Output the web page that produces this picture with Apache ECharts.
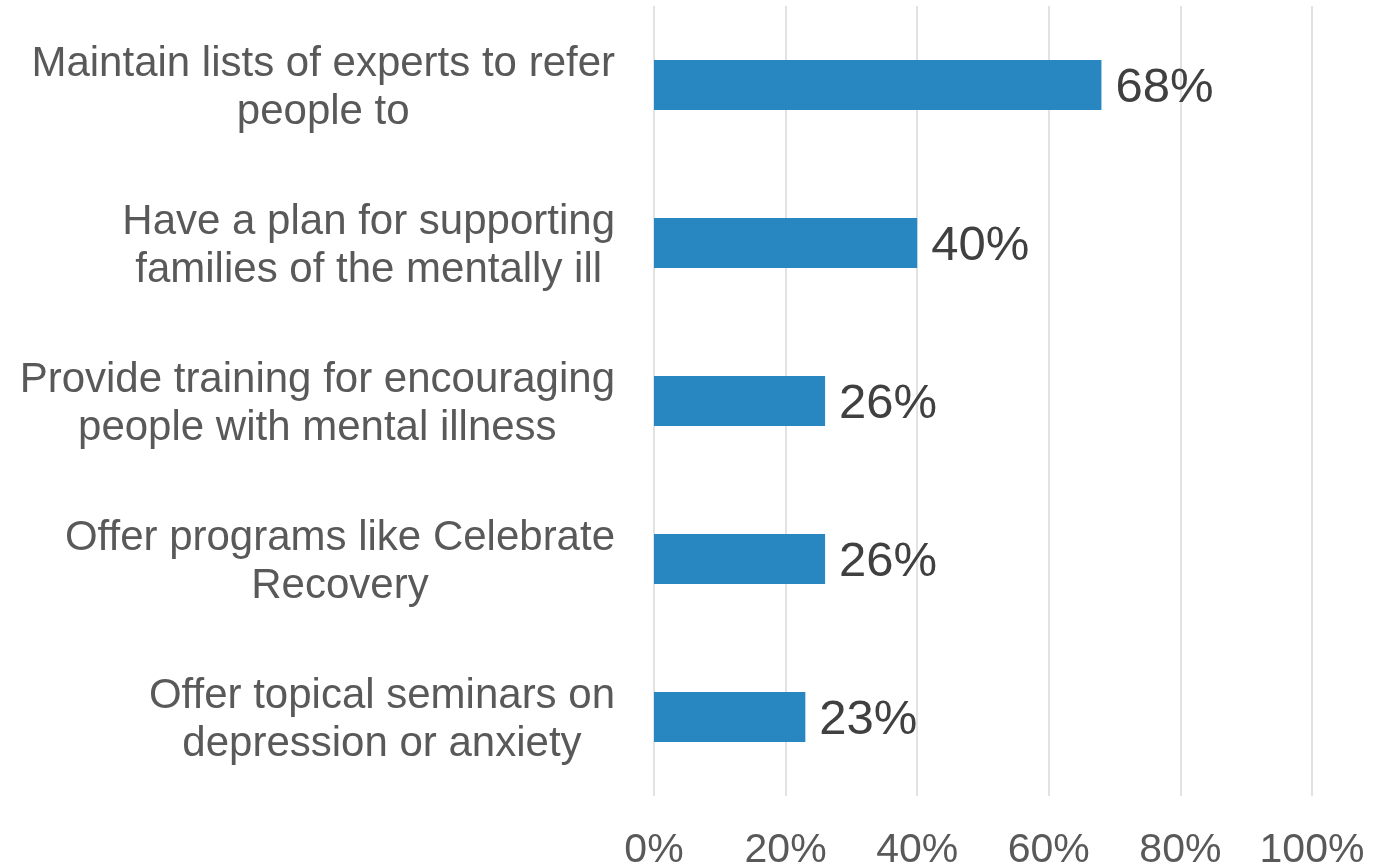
<!DOCTYPE html>
<html>
<head>
<meta charset="utf-8">
<style>
  html, body { margin: 0; padding: 0; background: #ffffff; }
  #chart { width: 1373px; height: 864px; }
</style>
<script src="https://cdn.jsdelivr.net/npm/echarts@6/dist/echarts.min.js"></script>
</head>
<body>
<div id="chart"></div>
<script>
// Church mental-health practices (share of respondents)
const categories = [
  'Maintain lists of experts to refer\npeople to',
  'Have a plan for supporting\nfamilies of the mentally ill',
  'Provide training for encouraging\npeople with mental illness',
  'Offer programs like Celebrate\nRecovery',
  'Offer topical seminars on\ndepression or anxiety'
];
const values = [68, 40, 26, 26, 23];
const axisTicks = [0, 20, 40, 60, 80, 100];

const FONT = '"Liberation Sans", Arial, sans-serif';

const chart = echarts.init(document.getElementById('chart'));
chart.setOption({
  animation: false,
  grid: {
    left: 654, right: 61, top: 6, bottom: 68,
    containLabel: false,
    outerBoundsMode: 'none'
  },
  xAxis: {
    type: 'value',
    min: axisTicks[0],
    max: axisTicks[axisTicks.length - 1],
    interval: axisTicks[1] - axisTicks[0],
    axisLine: { show: false },
    axisTick: { show: false },
    splitLine: { show: true, lineStyle: { color: '#d9d9d9', width: 1.5 } },
    axisLabel: {
      formatter: v => v + '%',
      fontFamily: FONT,
      fontSize: 41,
      color: '#595959',
      margin: 34
    }
  },
  yAxis: {
    type: 'category',
    data: categories,
    inverse: true,
    axisLine: { show: false },
    axisTick: { show: false },
    splitLine: { show: false },
    axisLabel: {
      margin: 39,
      align: 'right',
      padding: [6, 0, 0, 0],
      formatter: v => v.split('\n').map(s => '{c|' + s + '}').join('\n'),
      rich: {
        c: {
          align: 'center',
          fontFamily: FONT,
          fontSize: 42,
          lineHeight: 48,
          color: '#595959'
        }
      }
    }
  },
  series: [{
    type: 'bar',
    data: values,
    barWidth: 50,
    itemStyle: { color: '#2886c1' },
    label: {
      show: true,
      position: 'right',
      distance: 14,
      offset: [0, 3],
      formatter: p => p.value + '%',
      fontFamily: FONT,
      fontSize: 49,
      color: '#404040'
    }
  }]
});
</script>
</body>
</html>
